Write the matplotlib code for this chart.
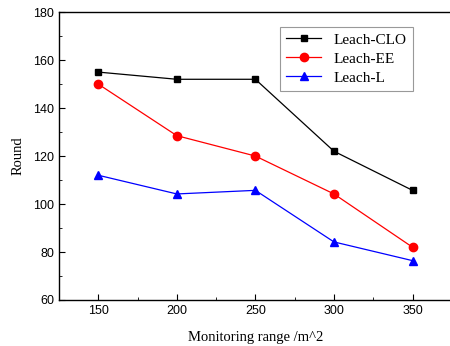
import matplotlib
matplotlib.use("Agg")
import matplotlib.pyplot as plt
from matplotlib.ticker import MultipleLocator

# data
ranges = [150, 200, 250, 300, 350]
leach_clo = [155, 152, 152, 122, 105.7]
leach_ee = [150, 128.5, 120, 104.2, 82]
leach_l = [112, 104.2, 105.7, 84.2, 76.4]

fig = plt.figure(figsize=(4.5, 3.46), dpi=100)
ax = fig.add_axes([0.131, 0.133, 0.873, 0.832])

ax.plot(ranges, leach_clo, color="black", marker="s", markersize=5, lw=0.9, label="Leach-CLO")
ax.plot(ranges, leach_ee, color="red", marker="o", markersize=6, lw=0.9, label="Leach-EE")
ax.plot(ranges, leach_l, color="blue", marker="^", markersize=6, lw=0.9, label="Leach-L")

ax.set_xlim(125, 375)
ax.set_ylim(60, 180)
ax.set_xticks(ranges)
ax.set_yticks(range(60, 181, 20))
ax.xaxis.set_minor_locator(MultipleLocator(25))
ax.yaxis.set_minor_locator(MultipleLocator(10))
ax.tick_params(which="both", direction="in", top=False, right=False)
ax.tick_params(which="major", length=4, labelsize=9)
ax.tick_params(which="minor", length=2.5)
for lab in ax.get_xticklabels() + ax.get_yticklabels():
    lab.set_family("Liberation Sans")
for sp in ax.spines.values():
    sp.set_linewidth(1.0)

ax.set_xlabel("Monitoring range /m^2", family="Liberation Serif", fontsize=10.5, labelpad=10)
ax.set_ylabel("Round", family="Liberation Serif", fontsize=10.5, labelpad=6)

leg = ax.legend(loc="upper right", bbox_to_anchor=(0.92, 0.975), prop={"family": "Liberation Serif", "size": 11},
                fancybox=False, edgecolor="gray", handlelength=2.3, borderpad=0.4, labelspacing=0.35)
leg.get_frame().set_linewidth(0.8)

fig.savefig("out.png", dpi=100)
